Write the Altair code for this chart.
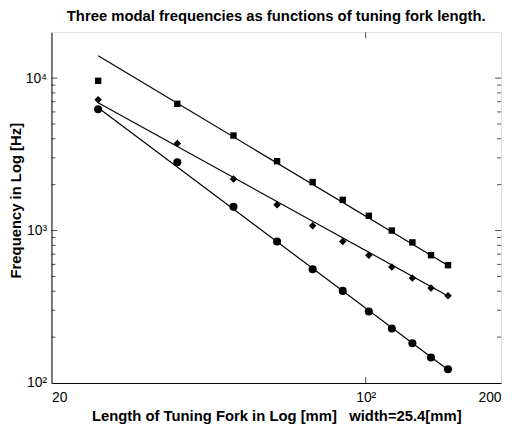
import altair as alt
import pandas as pd

# Tuning fork lengths (mm) – half-inch steps
lengths = [25.4, 38.1, 50.8, 63.5, 76.2, 88.9, 101.6, 114.3, 127.0, 139.7, 152.4]

freq_square = [9600, 6780, 4200, 2850, 2080, 1590, 1250, 1000, 836, 689, 593]
freq_diamond = [7200, 3730, 2180, 1475, 1077, 848, 689, 576, 488, 420, 373]
freq_circle = [6250, 2805, 1432, 848, 558, 402, 294, 228, 182, 147, 123]

# Fitted power-law lines (end points)
fit_x = [25.4, 152.4]
fit_square = [14000, 590]
fit_diamond = [6900, 372]
fit_circle = [6400, 122]

# Axis tick values
x_ticks = [20, 100, 200]
y_ticks = [100, 1000, 10000]
y_major_marks = [1000, 10000]
y_minor_marks = [200, 300, 400, 500, 600, 700, 800, 900,
                 2000, 3000, 4000, 5000, 6000, 7000, 8000, 9000]
x_major_marks = [100]

W, H = 455, 355
FONT = "Liberation Sans"

pts = pd.DataFrame({
    "length": lengths * 3,
    "freq": freq_square + freq_diamond + freq_circle,
    "series": ["square"] * 11 + ["diamond"] * 11 + ["circle"] * 11,
})
fits = pd.DataFrame({
    "length": fit_x * 3,
    "freq": fit_square + fit_diamond + fit_circle,
    "series": ["square"] * 2 + ["diamond"] * 2 + ["circle"] * 2,
})

xscale = alt.Scale(type="log", domain=[20, 200], nice=False)
yscale = alt.Scale(type="log", domain=[100, 20000], nice=False)

xaxis = alt.Axis(
    values=x_ticks, ticks=False, grid=False, labelFlush=True,
    labelExpr="datum.value == 100 ? '10\u00b2' : format(datum.value, 'd')",
    labelFont=FONT, labelFontSize=14, labelColor="black", labelPadding=8,
    title="Length of Tuning Fork in Log [mm] \u00a0 width=25.4[mm]",
    titleFont=FONT, titleFontSize=15, titleFontWeight="bold", titleColor="black",
    titlePadding=4, domainColor="black",
)
yaxis = alt.Axis(
    values=y_ticks, ticks=False, grid=False,
    labelExpr="datum.value == 100 ? '10\u00b2' : datum.value == 1000 ? '10\u00b3' : '10\u2074'",
    labelFont=FONT, labelFontSize=14, labelColor="black", labelPadding=5,
    title="Frequency in Log [Hz]",
    titleFont=FONT, titleFontSize=15, titleFontWeight="bold", titleColor="black",
    titlePadding=2, domainColor="black", titleY=170,
)

base_x = alt.X("length:Q", scale=xscale, axis=xaxis)
base_y = alt.Y("freq:Q", scale=yscale, axis=yaxis)

lines = alt.Chart(fits).mark_line(color="black", strokeWidth=1.2).encode(
    x=base_x, y=base_y, detail="series:N"
)

def marker(name, shape, size):
    return alt.Chart(pts[pts.series == name]).mark_point(
        shape=shape, filled=True, color="black", size=size, opacity=1
    ).encode(x=alt.X("length:Q", scale=xscale), y=alt.Y("freq:Q", scale=yscale))

sq = marker("square", "square", 42)
di = marker("diamond", "diamond", 58)
ci = marker("circle", "circle", 66)

# inward tick marks (MATLAB-style box ticks)
ymaj = pd.DataFrame({"v": y_major_marks})
ymin = pd.DataFrame({"v": y_minor_marks})
xmaj = pd.DataFrame({"v": x_major_marks})

def ytick(df, xpos, size):
    return alt.Chart(df).mark_tick(orient="horizontal", color="black", thickness=1, size=size).encode(
        y=alt.Y("v:Q", scale=yscale), x=alt.value(xpos)
    )

def xtick(df, ypos, size):
    return alt.Chart(df).mark_tick(orient="vertical", color="black", thickness=1, size=size).encode(
        x=alt.X("v:Q", scale=xscale), y=alt.value(ypos)
    )

ticks = [
    ytick(ymaj, 3, 6), ytick(ymaj, W - 3, 6),
    ytick(ymin, 2, 4), ytick(ymin, W - 2, 4),
    xtick(xmaj, H - 3, 6), xtick(xmaj, 3, 6),
]

chart = alt.layer(lines, sq, di, ci, *ticks).properties(
    width=W, height=H,
    title=alt.TitleParams(
        "Three modal frequencies as functions of tuning fork length.",
        font=FONT, fontSize=15, fontWeight="bold", color="black",
        anchor="middle", offset=8,
    ),
    autosize=alt.AutoSizeParams(type="none"),
    padding={"left": 44, "top": 22, "right": 5, "bottom": 40},
).configure_view(stroke="black", strokeWidth=1).configure(background="white")

chart.save("out.html", embed_options={"renderer": "svg", "actions": False})
